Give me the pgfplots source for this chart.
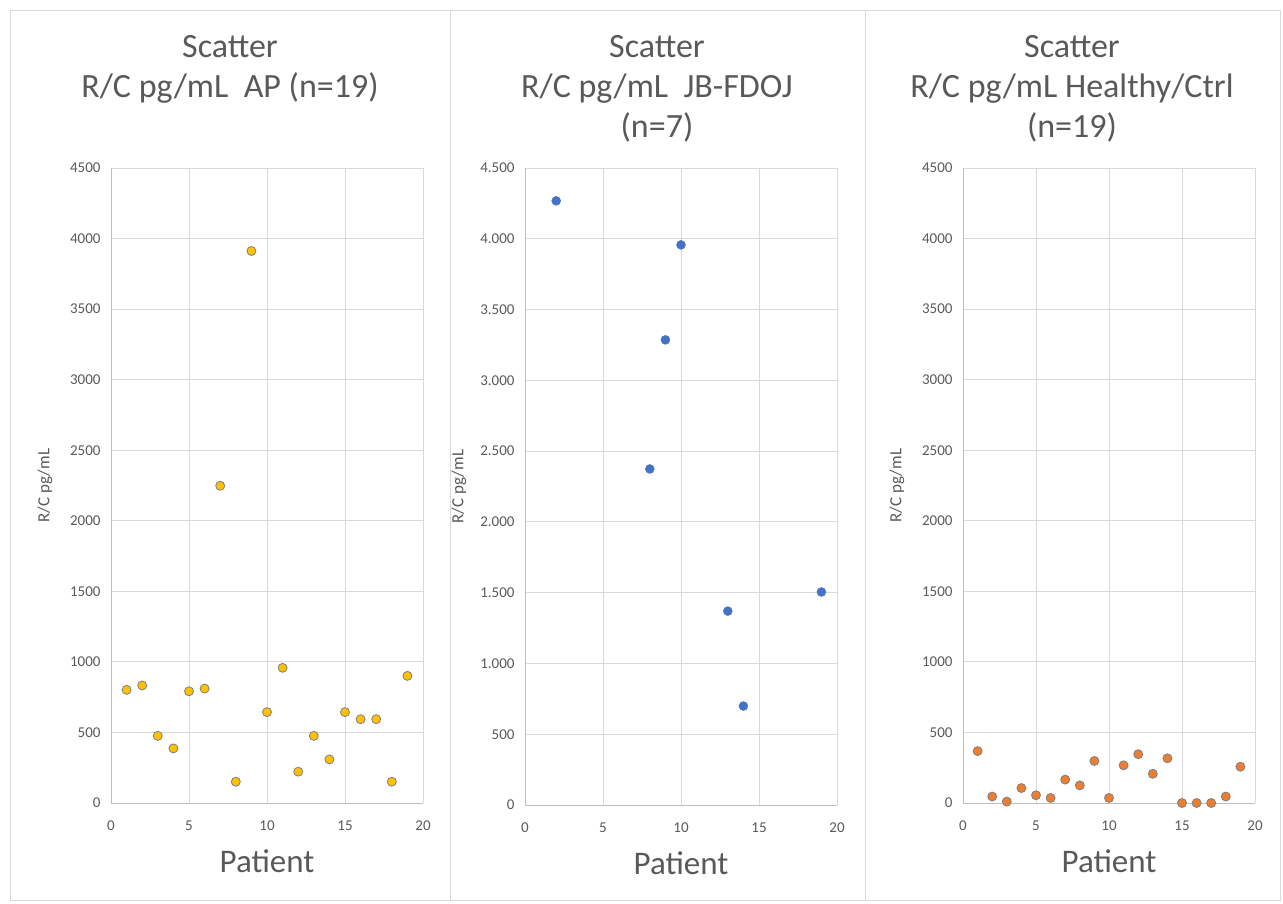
\documentclass[border=0pt]{standalone}
\usepackage{pgfplots}
\pgfplotsset{compat=1.18}
\usepackage{fontspec}
\setmainfont{Carlito}
\definecolor{txt}{HTML}{595959}
\definecolor{gridc}{HTML}{D9D9D9}
\definecolor{axc}{HTML}{BFBFBF}
\definecolor{gold}{HTML}{FFC000}
\definecolor{blu}{HTML}{4472C4}
\definecolor{orng}{HTML}{ED7D31}
\definecolor{edge}{HTML}{7F7F7F}
\definecolor{frame}{HTML}{D9D9D9}

\pgfplotsset{
  panel/.style={
    scale only axis,
    xmin=0, xmax=20, ymin=0, ymax=4500,
    xtick={0,5,...,20}, ytick={0,500,...,4500},
    grid=major, grid style={gridc, line width=1pt},
    axis x line*=bottom, axis y line*=left,
    axis line style={-, draw=axc, line width=1pt},
    tick style={draw=none},
    /pgf/number format/assume math mode=true,
    scaled y ticks=false,
    ticklabel style={font=\fontsize{15}{17}\selectfont, text=txt},
    xticklabel style={yshift=-14pt},
    yticklabel style={xshift=-7pt},
    xlabel={Patient}, ylabel={R/C pg/mL},
    every axis x label/.style={at={(axis description cs:0.5,0)}, anchor=base, yshift=-69pt,
      font=\fontsize{33}{38}\selectfont, text=txt},
    every axis y label/.style={at={(axis description cs:0,0.5)}, anchor=center, rotate=90, yshift=66pt,
      font=\fontsize{17}{20}\selectfont, text=txt},
    clip=false,
  },
}

\pgfplotstableread{
x y
1 802
2 833
3 476
4 387
5 792
6 811
7 2248
8 151
9 3912
10 644
11 958
12 222
13 476
14 309
15 644
16 594
17 594
18 151
19 901
}\tabAP

\pgfplotstableread{
x y
2 4268
8 2374
9 3286
10 3957
13 1370
14 699
19 1505
}\tabJB

\pgfplotstableread{
x y
1 368
2 46
3 10
4 106
5 55
6 36
7 166
8 125
9 298
10 36
11 267
12 346
13 207
14 317
15 0
16 0
17 0
18 46
19 257
}\tabHC

\begin{document}
\begin{tikzpicture}[x=1pt,y=1pt]
\useasboundingbox (0,0) rectangle (1283,-903);
% panel frames
\draw[frame, line width=1pt] (10,-10) rectangle (450,-900);
\draw[frame, line width=1pt] (450,-10) rectangle (865,-900);
\draw[frame, line width=1pt] (865,-10) rectangle (1280,-900);
% titles
\begin{scope}[every node/.style={anchor=base, text=txt, font=\fontsize{34}{40}\selectfont, inner sep=0pt}]
\node at (230,-57) {Scatter};
\node at (230,-97) {R/C pg/mL\ \ AP (n=19)};
\node at (657,-57) {Scatter};
\node at (657,-97) {R/C pg/mL\ \ JB-FDOJ};
\node at (657,-137) {(n=7)};
\node at (1072,-57) {Scatter};
\node at (1072,-97) {R/C pg/mL Healthy/Ctrl};
\node at (1072,-137) {(n=19)};
\end{scope}

\begin{axis}[panel, at={(111pt,-803pt)}, anchor=south west, width=312pt, height=635pt,
  yticklabel style={/pgf/number format/1000 sep={}}]
\addplot[only marks, mark=*, mark size=4.5pt, mark options={fill=gold, draw=edge, line width=0.8pt}] table[x=x,y=y] {\tabAP};
\end{axis}

\begin{axis}[panel, at={(525pt,-805pt)}, anchor=south west, width=312pt, height=637pt,
  yticklabel style={/pgf/number format/1000 sep={.}}]
\addplot[only marks, mark=*, mark size=4.5pt, mark options={fill=blu, draw=blu}] table[x=x,y=y] {\tabJB};
\end{axis}

\begin{axis}[panel, at={(963pt,-803pt)}, anchor=south west, width=292pt, height=635pt,
  yticklabel style={/pgf/number format/1000 sep={}}]
\addplot[only marks, mark=*, mark size=4.5pt, mark options={fill=orng, draw=edge, line width=0.8pt}] table[x=x,y=y] {\tabHC};
\end{axis}
\end{tikzpicture}
\end{document}
